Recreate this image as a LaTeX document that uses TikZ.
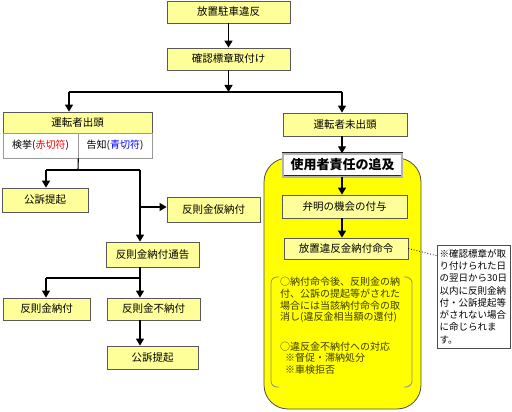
\documentclass[tikz,border=0pt]{standalone}
\usepackage{fontspec}
\setmainfont{Noto Sans CJK JP}
\usetikzlibrary{arrows.meta}
\definecolor{boxyellow}{RGB}{255,255,153}
\definecolor{areayellow}{RGB}{255,255,0}
\definecolor{olivetext}{RGB}{60,60,0}
\tikzset{
  flowbox/.style={draw=black!65, line width=0.8pt, fill=boxyellow, inner sep=0pt, font=\fontsize{10.5}{12}\selectfont},
  cellbox/.style={draw=black!40, line width=0.6pt, fill=white, inner sep=0pt, font=\fontsize{10}{12}\selectfont},
  flowline/.style={line width=1.1pt},
  flowarrow/.style={line width=1.1pt, -{Triangle[length=7pt,width=8pt]}},
  bracketline/.style={draw=black!45, line width=0.8pt, rounded corners=6pt},
}

\begin{document}
\begin{tikzpicture}[x=1pt,y=-1pt]
			\useasboundingbox (0,0) rectangle (512,412);
			%%%%% START %%%%%
			
			\draw[fill=areayellow, draw=black!70, line width=0.8pt, rounded corners=24pt] (264,158) rectangle (421,409);
			
			\node[flowbox, minimum width=123pt, minimum height=22pt] (nHouchi) at (228.5,12) {放置駐車違反};
			\node[flowbox, minimum width=123pt, minimum height=22pt] (nKakunin) at (228.5,59) {確認標章取付け};
			\coordinate (jMid) at (228.5,92);
			\coordinate (jLeft) at (69,92);
			\coordinate (jRight) at (342,92);
			
			% left branch
			\node[flowbox, minimum width=149pt, minimum height=21pt] (nShutto) at (77.5,122.5) {運転者出頭};
			\node[cellbox, minimum width=75pt, minimum height=25pt] (nKenkyo) at (40.5,145.5) {検挙(\textcolor{red}{赤切符})};
			\node[cellbox, minimum width=74pt, minimum height=25pt] (nKokuchi) at (115,145.5) {告知(\textcolor{blue}{青切符})};
			\coordinate (jSplit) at (78,170);
			\coordinate (jKoso) at (46,170);
			\coordinate (jTsuchi) at (140,170);
			\coordinate (jKari) at (140,207);
			
			\node[flowbox, minimum width=86pt, minimum height=24pt] (nKoso) at (45,200) {公訴提起};
			\node[flowbox, minimum width=93pt, minimum height=25pt] (nKari) at (213.5,209.5) {反則金仮納付};
			\node[flowbox, minimum width=93pt, minimum height=25pt] (nTsukoku) at (152.5,254.5) {反則金納付通告};
			\coordinate (jLow) at (140,278);
			\coordinate (jNofu) at (46,278);
			\node[flowbox, minimum width=87pt, minimum height=22pt] (nNofu) at (46.5,309) {反則金納付};
			\node[flowbox, minimum width=93pt, minimum height=22pt] (nFunofu) at (153.5,309) {反則金不納付};
			\node[flowbox, minimum width=91pt, minimum height=23pt] (nKosoB) at (152.5,357.5) {公訴提起};
			
			% right branch
			\node[flowbox, minimum width=124pt, minimum height=23pt] (nMishutto) at (345,124.5) {運転者未出頭};
			\node[draw=black!85, double=black!30, double distance=2pt, fill=white, inner sep=0pt,
			      minimum width=119pt, minimum height=23pt, font=\fontsize{13}{15}\selectfont\bfseries] (nSekinin) at (342.5,165) {使用者責任の追及};
			\node[flowbox, minimum width=125pt, minimum height=23pt] (nBenmei) at (344.5,206.5) {弁明の機会の付与};
			\node[flowbox, minimum width=124pt, minimum height=21pt] (nMeirei) at (346,248.5) {放置違反金納付命令};
			
			\draw[bracketline] (279,277) -- (271,277) -- (271,387) -- (279,387);
			\draw[bracketline] (404,277) -- (412,277) -- (412,387) -- (404,387);
			\node[anchor=north west, inner sep=0pt, align=left, text=olivetext, font=\fontsize{10}{11.7}\selectfont] (nTaio) at (280,277)
			  {○納付命令後、反則金の納\\付、公訴の提起等がされた\\場合には当該納付命令の取\\消し(違反金相当額の還付)\\[17.7pt]○違反金不納付への対応\\\hspace{5pt}※督促・滞納処分\\\hspace{5pt}※車検拒否};
			
			\node[draw=black!70, line width=0.6pt, fill=white, minimum width=73pt, minimum height=103pt, text width=68pt,
			      inner sep=2pt, align=left, font=\fontsize{9.5}{12.3}\selectfont] (nNote) at (473.5,296.5)
			  {※確認標章が取\\り付けられた日\\の翌日から30日\\以内に反則金納\\付・公訴提起等\\がされない場合\\に命じられま\\す。};
			
			% connectors
			\draw[flowarrow] (nHouchi.south) -- (nKakunin.north);
			\draw[flowarrow] (nKakunin.south) -- (jMid);
			\draw[flowline] (jLeft) -- (jRight);
			\draw[flowarrow] (jLeft) -- (jLeft |- nShutto.north);
			\draw[flowarrow] (jRight) -- (jRight |- nMishutto.north);
			
			\draw[flowline] (nKenkyo.south east) -- (jSplit);
			\draw[flowline] (jKoso) -- (jTsuchi);
			\draw[flowarrow] (jKoso) -- (jKoso |- nKoso.north);
			\draw[flowarrow] (jTsuchi) -- (jTsuchi |- nTsukoku.north);
			\draw[flowarrow] (jKari) -- (nKari.west |- jKari);
			\draw[flowline] (jLow |- nTsukoku.south) -- (jLow);
			\draw[flowline] (jNofu) -- (jLow);
			\draw[flowarrow] (jNofu) -- (jNofu |- nNofu.north);
			\draw[flowarrow] (jLow) -- (jLow |- nFunofu.north);
			\draw[flowarrow] (jLow |- nFunofu.south) -- (jLow |- nKosoB.north);
			
			\draw[flowarrow] (jRight |- nMishutto.south) -- (jRight |- nSekinin.north);
			\draw[flowarrow] (jRight |- nSekinin.south) -- (jRight |- nBenmei.north);
			\draw[flowarrow] (jRight |- nBenmei.south) -- (jRight |- nMeirei.north);
			\draw[dotted, line width=0.8pt] (nMeirei.east) -- (nNote.132);
			
			%%%%% END %%%%%
\end{tikzpicture}
\end{document}
